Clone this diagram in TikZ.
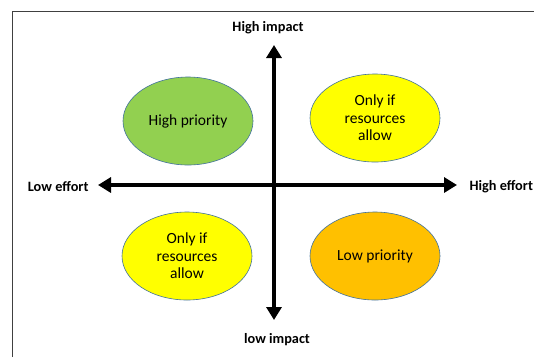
\documentclass[tikz,border=0pt]{standalone}
\usepackage{fontspec}
\setmainfont{Carlito}
\usetikzlibrary{arrows.meta,shapes.geometric}
\definecolor{prioGreen}{HTML}{92D050}
\definecolor{prioYellow}{HTML}{FFFF00}
\definecolor{prioOrange}{HTML}{FFC000}
\definecolor{rimBlue}{HTML}{41719C}
\begin{document}
\begin{tikzpicture}[x=1pt,y=-1pt,
    blob/.style={ellipse,draw=rimBlue,line width=0.6pt,minimum width=130pt,
        minimum height=88pt,inner sep=0pt,align=center,font=\fontsize{15.5}{17.5}\selectfont},
    axis/.style={line width=4.5pt,{Triangle[width=15pt,length=13pt]}-{Triangle[width=15pt,length=13pt]}},
    axislabel/.style={font=\fontsize{14.3}{16}\selectfont\bfseries}]
                \useasboundingbox (0,0) rectangle (534,357);
                \draw[black!75,line width=0.8pt] (12,357) -- (12,11) -- (534,11);

                \coordinate (top) at (274,45);
                \coordinate (bottom) at (274,320);
                \coordinate (left) at (98,185);
                \coordinate (right) at (457,185);
                \draw[axis] (bottom) -- (top);
                \draw[axis] (left) -- (right);

                \node[axislabel] (hiimp) at (268,28) {High impact};
                \node[axislabel] (loimp) at (277,340) {low impact};
                \node[axislabel,anchor=east] (loeff) at (92,187) {Low effort};
                \node[axislabel,anchor=west] (hieff) at (466,187) {High effort};

                \node[blob,fill=prioGreen] (hiprio) at (188,121) {High priority};
                \node[blob,fill=prioYellow] (onlyA) at (375,118)
                    {Only if\\resources\\allow};
                \node[blob,fill=prioYellow] (onlyB) at (187,256)
                    {Only if\\resources\\allow};
                \node[blob,fill=prioOrange] (loprio) at (375,256) {Low priority};
            \end{tikzpicture}
\end{document}
